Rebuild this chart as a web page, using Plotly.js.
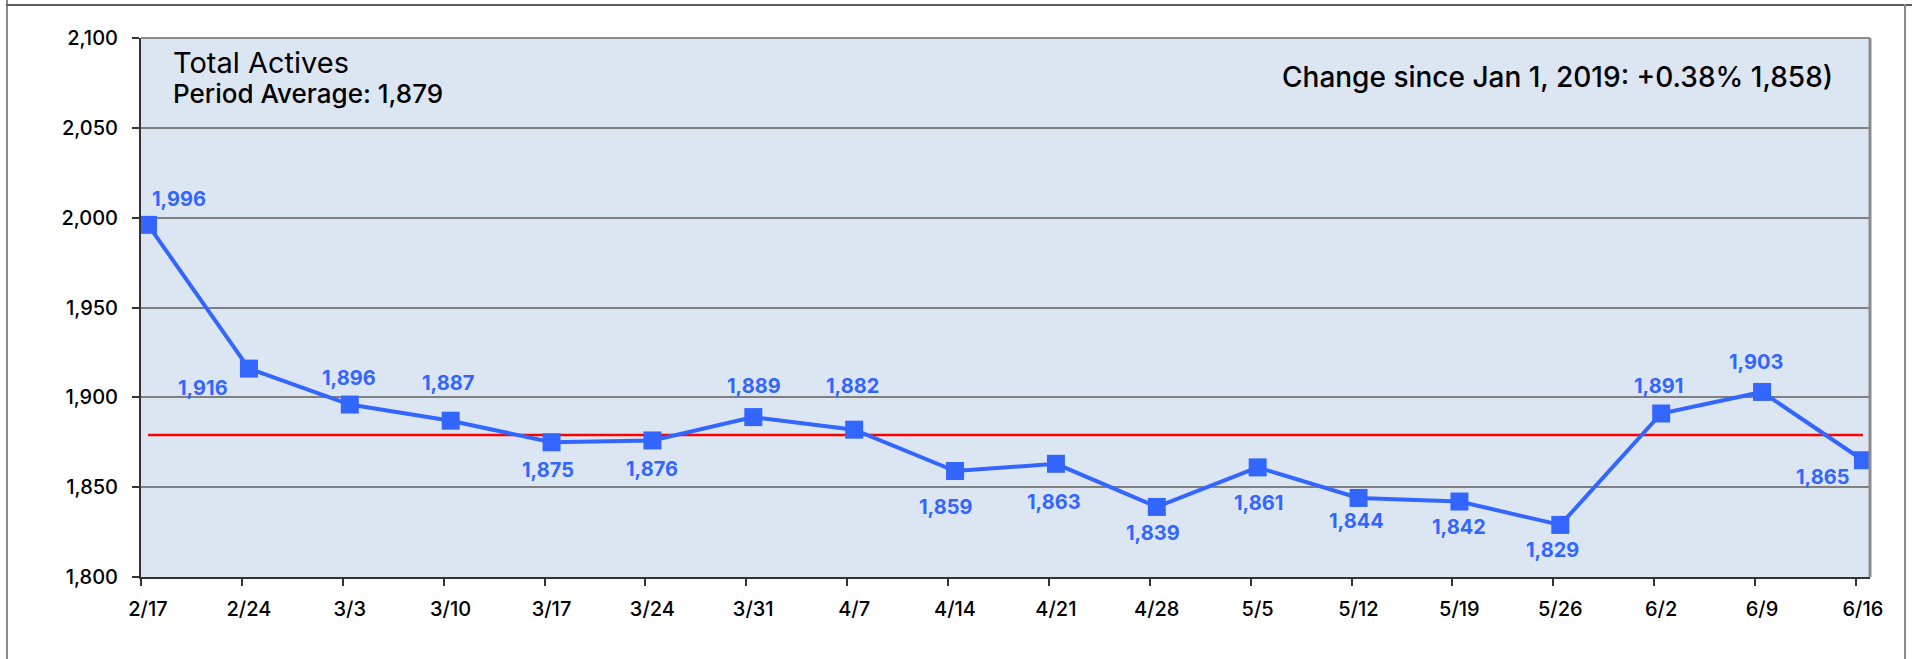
<!DOCTYPE html>
<html>
<head>
<meta charset="utf-8">
<script src="https://cdn.plot.ly/plotly-3.0.1.min.js"></script>
<style>
  html, body { margin: 0; padding: 0; background: #ffffff; }
  #wrap { position: relative; width: 1912px; height: 659px; overflow: hidden; }
  #chart { position: absolute; left: 0; top: 0; width: 1912px; height: 659px; }
  .frame { position: absolute; pointer-events: none; }
</style>
</head>
<body>
<div id="wrap">
  <div id="chart"></div>
  <div class="frame" style="left:6px;top:0;width:2px;height:659px;background:#8a8a8a;"></div>
  <div class="frame" style="left:6px;top:4px;width:1906px;height:2px;background:#5e5e5e;"></div>
  <div class="frame" style="left:1904px;top:4px;width:2px;height:655px;background:#8a8a8a;"></div>
</div>
<script>
// ---- data ----
const categories = ['2/17','2/24','3/3','3/10','3/17','3/24','3/31','4/7','4/14','4/21','4/28','5/5','5/12','5/19','5/26','6/2','6/9','6/16'];
const totalActives = [1996,1916,1896,1887,1875,1876,1889,1882,1859,1863,1839,1861,1844,1842,1829,1891,1903,1865];
const yTickVals = [1800,1850,1900,1950,2000,2050,2100];
const chartTitle = 'Total Actives';
const averageLabel = 'Period Average: ';
const changeText = 'Change since Jan 1, 2019: +0.38% 1,858)';

// ---- label placement (pixel offsets, styling only) ----
const labelShiftX = [31,-46,-1,-3,-4,0,1,-2,-9,-2,-4,1,-2,0,-8,-3,-6,-40];
const labelShiftY = [-26,19,-27,-38,28,29,-31,-44,36,38,26,36,23,25,25,-28,-30,17];

const idx = categories.map((_, i) => i);
const avg = Math.round(totalActives.reduce((a, b) => a + b, 0) / totalActives.length);
const fmt = v => v.toLocaleString('en-US');

const FONT = 'Inter, "Open Sans", sans-serif';
const BLUE = '#3366ff';
const tickOffset = 0.07;

const traces = [
  {
    x: [idx[0], idx[idx.length - 1]],
    y: [avg, avg],
    mode: 'lines',
    line: { color: '#ff0000', width: 2.5 },
    hoverinfo: 'skip',
    showlegend: false
  },
  {
    x: idx,
    y: totalActives,
    mode: 'lines+markers',
    line: { color: BLUE, width: 4 },
    marker: { symbol: 'square', size: 18, color: BLUE },
    hoverinfo: 'skip',
    showlegend: false
  }
];

const annotations = totalActives.map((v, i) => ({
  x: idx[i], y: v, xref: 'x', yref: 'y',
  text: fmt(v), showarrow: false,
  xshift: labelShiftX[i], yshift: -labelShiftY[i],
  font: { family: FONT, size: 20, color: BLUE, weight: 'bold' }
}));

annotations.push(
  { xref: 'paper', yref: 'paper', x: 0.0175, y: 0.9276, xanchor: 'left', yanchor: 'middle', align: 'left',
    text: '<span style="font-size:29px">' + chartTitle + '</span><br>' +
          '<span style="font-size:26px;font-weight:500">' + averageLabel + fmt(avg) + '</span>',
    showarrow: false, font: { family: FONT, size: 23, color: '#000' } },
  { xref: 'paper', yref: 'paper', x: 0.659, y: 0.9276, xanchor: 'left', yanchor: 'middle',
    text: changeText, showarrow: false, font: { family: FONT, size: 28, color: '#000', weight: 500 } }
);

const layout = {
  width: 1912, height: 659,
  margin: { l: 141, r: 42, t: 38, b: 82, pad: 0 },
  paper_bgcolor: 'rgba(0,0,0,0)',
  plot_bgcolor: '#dce6f2',
  font: { family: FONT, color: '#000' },
  showlegend: false,
  xaxis: {
    type: 'linear',
    range: [-tickOffset, idx[idx.length - 1] + tickOffset],
    tickmode: 'array',
    tickvals: idx.map(i => i - tickOffset),
    ticktext: categories,
    ticklabelshift: 7,
    ticklabelstandoff: 6,
    ticks: 'outside', ticklen: 7, tickwidth: 2, tickcolor: '#333',
    showgrid: false, zeroline: false,
    showline: true, linecolor: '#333', linewidth: 2,
    tickfont: { family: FONT, size: 20, color: '#000', weight: 500 },
    fixedrange: true
  },
  yaxis: {
    range: [yTickVals[0], yTickVals[yTickVals.length - 1]],
    tickmode: 'array',
    tickvals: yTickVals,
    ticktext: yTickVals.map(fmt),
    ticks: 'outside', ticklen: 7, tickwidth: 2, tickcolor: '#333',
    ticklabelstandoff: 10,
    showgrid: true, gridcolor: '#808080', gridwidth: 2,
    zeroline: false,
    showline: true, linecolor: '#333', linewidth: 2,
    tickfont: { family: FONT, size: 20, color: '#000', weight: 500 },
    fixedrange: true
  },
  shapes: [
    { type: 'line', xref: 'paper', yref: 'paper', x0: 0, x1: 1, y0: 1, y1: 1,
      line: { color: '#8c8c8c', width: 2 } },
    { type: 'line', xref: 'paper', yref: 'paper', x0: 1, x1: 1, y0: 0, y1: 1,
      line: { color: '#8c8c8c', width: 3 } }
  ],
  annotations: annotations
};

Plotly.newPlot('chart', traces, layout, { staticPlot: true, displayModeBar: false });
</script>
</body>
</html>
